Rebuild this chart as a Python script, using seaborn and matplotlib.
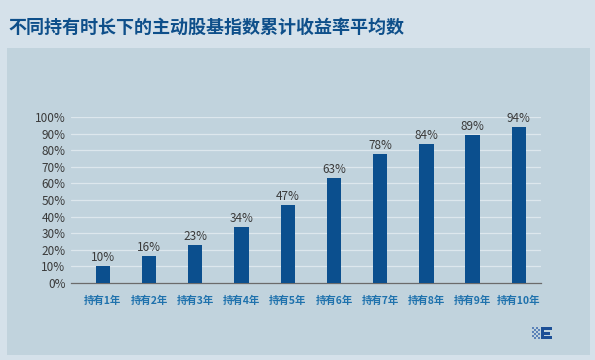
import matplotlib
matplotlib.use("Agg")
import matplotlib.pyplot as plt
import matplotlib.patches as mpatches
import seaborn as sns
import pandas as pd

# data
periods = ["持有1年", "持有2年", "持有3年", "持有4年", "持有5年",
           "持有6年", "持有7年", "持有8年", "持有9年", "持有10年"]
returns = [10, 16, 23, 34, 47, 63, 78, 84, 89, 94]
yticks = [0, 10, 20, 30, 40, 50, 60, 70, 80, 90, 100]
title = "不同持有时长下的主动股基指数累计收益率平均数"

sns.set_theme(style="white")
plt.rcParams["font.family"] = ["Noto Sans CJK SC", "DejaVu Sans"]
plt.rcParams["axes.unicode_minus"] = False

BAR = "#0b4f8e"
df = pd.DataFrame({"period": periods, "ret": returns})

fig = plt.figure(figsize=(5.95, 3.6), dpi=100)
fig.patch.set_facecolor("#d5e1ea")

# inner panel (behind the axes)
panel = mpatches.Rectangle((7 / 595, 5 / 360), 583 / 595, 307 / 360,
                           transform=fig.transFigure, facecolor="#c1d3dd",
                           edgecolor="none", zorder=-5)
fig.patches.append(panel)

fig.text(8 / 595, 1 - 27 / 360, title, fontsize=13, fontweight="bold",
         color="#0e4f8a", va="center", ha="left")

ax = fig.add_axes([71 / 595, 77 / 360, 470 / 595, 166 / 360], zorder=2)
ax.set_facecolor("none")
sns.barplot(data=df, x="period", y="ret", color=BAR, width=0.31,
            saturation=1, linewidth=0, ax=ax, zorder=3)

ax.set_ylim(0, 100)
ax.set_xlim(-0.69, 9.48)
ax.set_yticks(yticks)
ax.set_yticklabels([f"{v}%" for v in yticks], fontsize=8.5, color="#3a3a3a")
ax.tick_params(axis="x", labelsize=7.5, labelcolor="#1f72ad", pad=9, length=0)
ax.tick_params(axis="y", length=0, pad=4)
for lab in ax.get_xticklabels():
    lab.set_fontweight("bold")
ax.set_xlabel("")
ax.set_ylabel("")
for v in yticks[1:]:
    ax.axhline(v, color="#dde7ed", lw=0.9, zorder=1)
for s in ["top", "right", "left"]:
    ax.spines[s].set_visible(False)
ax.spines["bottom"].set_color("#6b6b6b")
ax.spines["bottom"].set_linewidth(0.9)

for i, v in enumerate(returns):
    ax.text(i, v + 1.2, f"{v}%", ha="center", va="bottom", fontsize=8.5,
            color="#3a3a3a", clip_on=False)

# small logo mark, bottom right: dotted fade + "E"
def fig_rect(x, y, w, h, c):
    fig.patches.append(mpatches.Rectangle((x / 595, (360 - y - h) / 360), w / 595, h / 360,
                                          transform=fig.transFigure, facecolor=c,
                                          edgecolor="none"))

for col in range(4):
    for row in range(6):
        if (row + col) % 2 == 0:
            fig_rect(532 + col * 2, 327 + row * 2, 1.5, 1.5, "#5b82b8")
fig_rect(541, 327, 3, 12, "#1c4f96")
fig_rect(541, 327, 11, 3, "#1c4f96")
fig_rect(541, 331.5, 9, 3, "#1c4f96")
fig_rect(541, 336, 11, 3, "#1c4f96")

fig.savefig("out.png", dpi=100, facecolor=fig.get_facecolor())
